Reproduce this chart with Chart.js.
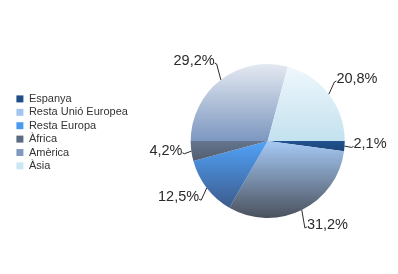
<!DOCTYPE html>
<html>
<head>
<meta charset="utf-8">
<script src="https://cdn.jsdelivr.net/npm/chart.js@4/dist/chart.umd.min.js"></script>
<style>
html,body{margin:0;padding:0;background:#ffffff;}
#wrap{width:398px;height:274px;position:relative;}
</style>
</head>
<body>
<div id="wrap"><canvas id="c" width="398" height="274"></canvas></div>
<script>
// ---- data ----
const categories = ['Espanya', 'Resta Unió Europea', 'Resta Europa', 'Àfrica', 'Amèrica', 'Àsia'];
const shares = [2.1, 31.2, 12.5, 4.2, 29.2, 20.8];

// ---- styles ----
const topColors    = ['#22538f', '#a6caf5', '#51a2f8', '#64758c', '#e4e9f1', '#eff7fc'];
const bottomColors = ['#1a4476', '#4a515e', '#3c5b8c', '#525d70', '#7c97c0', '#c3e1ef'];
const legendColors = ['#1f4d88', '#a2c5f0', '#4b9af0', '#5b6b82', '#8099bf', '#cbe7f4'];
const FONT = '"Liberation Sans", Arial, Helvetica, sans-serif';
const PIE = { cx: 267.7, cy: 141, r: 77 };
const LEAD = { dx: 7, dy: 20 };

const total = shares.reduce((a, b) => a + b, 0);

function sliceFill(ctx) {
  const chart = ctx.chart;
  const area = chart.chartArea;
  const i = ctx.dataIndex;
  if (!area || i === undefined) return topColors[i] || '#888';
  const cx = (area.left + area.right) / 2;
  const cy = (area.top + area.bottom) / 2;
  const r = Math.min(area.width, area.height) / 2;
  let before = 0;
  for (let j = 0; j < i; j++) before += shares[j];
  const a0 = 2 * Math.PI * before / total;
  const a1 = 2 * Math.PI * (before + shares[i]) / total;
  const ys = [cy, cy + r * Math.sin(a0), cy + r * Math.sin(a1)];
  if (a0 <= Math.PI / 2 && a1 >= Math.PI / 2) ys.push(cy + r);
  if (a0 <= 1.5 * Math.PI && a1 >= 1.5 * Math.PI) ys.push(cy - r);
  const y0 = Math.min(...ys), y1 = Math.max(...ys);
  const g = chart.ctx.createLinearGradient(0, y0, 0, y1 + 0.001);
  g.addColorStop(0, topColors[i]);
  g.addColorStop(1, bottomColors[i]);
  return g;
}

const pieAreaPlugin = {
  id: 'pieArea',
  afterLayout(chart) {
    const a = chart.chartArea;
    a.left = PIE.cx - PIE.r;
    a.right = PIE.cx + PIE.r;
    a.top = PIE.cy - PIE.r;
    a.bottom = PIE.cy + PIE.r;
    a.width = 2 * PIE.r;
    a.height = 2 * PIE.r;
  }
};

const labelPlugin = {
  id: 'pctLabels',
  afterDatasetsDraw(chart) {
    const ctx = chart.ctx;
    const meta = chart.getDatasetMeta(0);
    ctx.save();
    ctx.strokeStyle = '#2a2a2a';
    ctx.lineWidth = 1;
    ctx.fillStyle = '#2a2a2a';
    ctx.font = '14.5px ' + FONT;
    ctx.textBaseline = 'middle';
    meta.data.forEach((arc, i) => {
      const p = arc.getProps(['x', 'y', 'startAngle', 'endAngle', 'outerRadius'], true);
      const mid = (p.startAngle + p.endAngle) / 2;
      const c = Math.cos(mid), s = Math.sin(mid);
      const sx = p.x + c * p.outerRadius, sy = p.y + s * p.outerRadius;
      const ex = p.x + c * (p.outerRadius + LEAD.dx), ey = p.y + s * (p.outerRadius + LEAD.dy);
      const right = c >= 0;
      const hx = ex + (right ? 2 : -2);
      ctx.beginPath();
      ctx.moveTo(sx, sy);
      ctx.lineTo(ex, ey);
      ctx.lineTo(hx, ey - 1);
      ctx.stroke();
      const txt = shares[i].toFixed(1).replace('.', ',') + '%';
      ctx.textAlign = right ? 'left' : 'right';
      ctx.fillText(txt, right ? ex + 2 : ex - 2, ey - 3);
    });
    ctx.restore();
  }
};

new Chart(document.getElementById('c'), {
  type: 'pie',
  data: {
    labels: categories,
    datasets: [{
      data: shares,
      backgroundColor: sliceFill,
      borderWidth: 0,
      hoverBorderWidth: 0,
      clip: false
    }]
  },
  options: {
    responsive: false,
    animation: false,
    events: [],
    rotation: 90,
    layout: { padding: { left: 14, top: 91, bottom: 20, right: 0 } },
    plugins: {
      tooltip: { enabled: false },
      legend: {
        position: 'left',
        align: 'start',
        labels: {
          boxWidth: 7,
          boxHeight: 7,
          padding: 2.4,
          color: '#333333',
          font: { family: FONT, size: 11 },
          generateLabels: () => categories.map((t, i) => ({
            text: t,
            fillStyle: legendColors[i],
            strokeStyle: legendColors[i],
            lineWidth: 0,
            hidden: false,
            index: i,
            fontColor: '#333333'
          }))
        }
      }
    }
  },
  plugins: [pieAreaPlugin, labelPlugin]
});
</script>
</body>
</html>
